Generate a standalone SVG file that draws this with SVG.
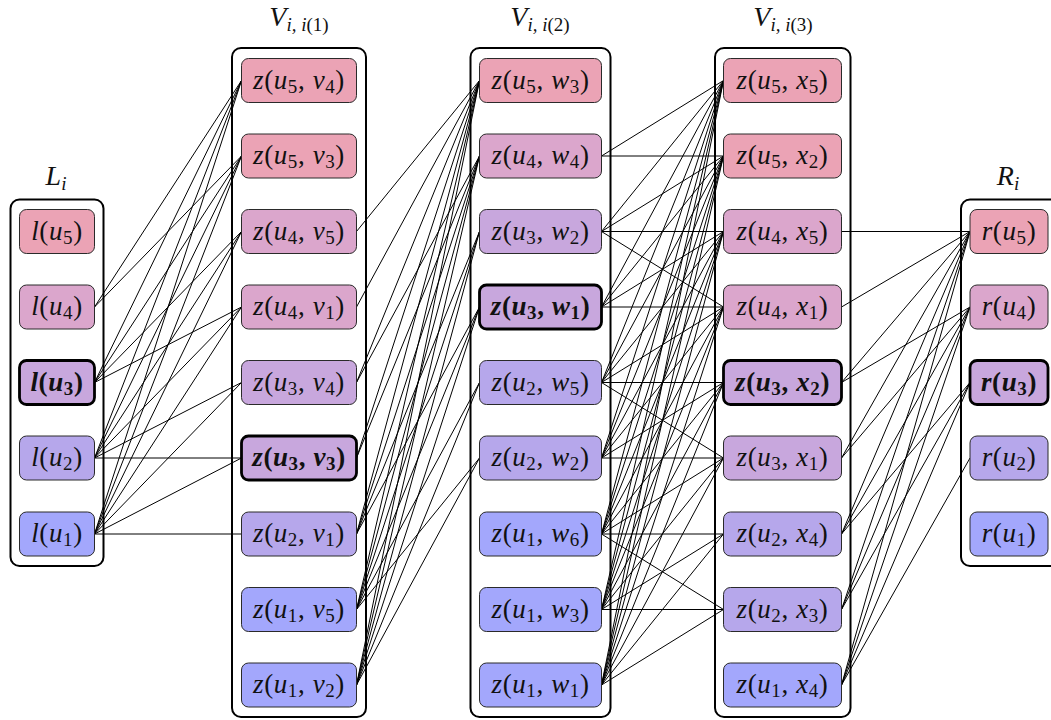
<svg xmlns="http://www.w3.org/2000/svg" width="1051" height="720" viewBox="0 0 1051 720">
<style>
.bg{fill:#fff}
.box{fill:#fff;stroke:#000;stroke-width:2}
.n{stroke:#2a2a2a;stroke-width:1}
.nb{stroke:#000;stroke-width:2.8}
.c5{fill:#EBA3B5}.c4{fill:#DBA6CC}.c3{fill:#C8A7DD}.c2{fill:#B6A7EB}.c1{fill:#A3A7FC}
.e{fill:none;stroke:#000;stroke-width:1}
.t{font-family:"Liberation Serif","DejaVu Serif",serif;font-size:27px;fill:#111;text-anchor:middle;letter-spacing:0.6px}
.tb{font-weight:bold}
.i{font-style:italic}
.s{font-size:19px}
.lab{font-family:"Liberation Serif","DejaVu Serif",serif;font-size:28px;fill:#111;text-anchor:middle}
.ls{font-size:19px;font-style:italic}
.lu{font-size:19px;font-style:normal}
</style>
<rect class="bg" x="0" y="0" width="1051" height="720"/>
<g id="labels">
<text class="lab" x="56" y="185"><tspan class="i">L</tspan><tspan class="ls" dy="5">i</tspan></text>
<text class="lab" x="299" y="26"><tspan class="i">V</tspan><tspan class="ls" dy="5">i, i</tspan><tspan class="lu">(1)</tspan></text>
<text class="lab" x="540" y="26"><tspan class="i">V</tspan><tspan class="ls" dy="5">i, i</tspan><tspan class="lu">(2)</tspan></text>
<text class="lab" x="783" y="26"><tspan class="i">V</tspan><tspan class="ls" dy="5">i, i</tspan><tspan class="lu">(3)</tspan></text>
<text class="lab" x="1008" y="185"><tspan class="i">R</tspan><tspan class="ls" dy="5">i</tspan></text>
</g>
<g id="containers">
<rect id="Li" class="box" x="10.5" y="199.5" width="93" height="366.5" rx="9"/>
<rect id="V1" class="box" x="232" y="48" width="134" height="669" rx="9"/>
<rect id="V2" class="box" x="470.5" y="48" width="140" height="669" rx="9"/>
<rect id="V3" class="box" x="715" y="48" width="135.5" height="669" rx="9"/>
<rect id="Ri" class="box" x="961" y="199.5" width="100" height="366.5" rx="9"/>
</g>
<g id="connectors">
<path class="e" d="M94.5 307L241.5 80.5M94.5 307L241.5 156M94.5 382.5L241.5 80.5M94.5 382.5L241.5 156M94.5 382.5L241.5 231.5M94.5 382.5L241.5 307M94.5 458L241.5 80.5M94.5 458L241.5 156M94.5 458L241.5 231.5M94.5 458L241.5 307M94.5 458L241.5 382.5M94.5 458L241.5 458M94.5 534L241.5 80.5M94.5 534L241.5 156M94.5 534L241.5 231.5M94.5 534L241.5 307M94.5 534L241.5 382.5M94.5 534L241.5 458M94.5 534L241.5 534"/>
<path class="e" d="M356.5 231.5L479.5 80.5M356.5 307L479.5 80.5M356.5 382.5L479.5 80.5M356.5 382.5L479.5 156M356.5 458L479.5 80.5M356.5 458L479.5 156M356.5 534L479.5 80.5M356.5 534L479.5 156M356.5 534L479.5 231.5M356.5 534L479.5 307M356.5 609.5L479.5 80.5M356.5 609.5L479.5 156M356.5 609.5L479.5 231.5M356.5 609.5L479.5 307M356.5 609.5L479.5 382.5M356.5 609.5L479.5 458M356.5 685L479.5 80.5M356.5 685L479.5 156M356.5 685L479.5 231.5M356.5 685L479.5 307M356.5 685L479.5 382.5M356.5 685L479.5 458"/>
<path class="e" d="M601.5 156L723.5 80.5M601.5 156L723.5 156M601.5 231.5L723.5 80.5M601.5 231.5L723.5 156M601.5 231.5L723.5 231.5M601.5 231.5L723.5 307M601.5 307L723.5 80.5M601.5 307L723.5 156M601.5 307L723.5 231.5M601.5 307L723.5 307M601.5 382.5L723.5 80.5M601.5 382.5L723.5 156M601.5 382.5L723.5 231.5M601.5 382.5L723.5 307M601.5 382.5L723.5 382.5M601.5 382.5L723.5 458M601.5 458L723.5 80.5M601.5 458L723.5 156M601.5 458L723.5 231.5M601.5 458L723.5 307M601.5 458L723.5 382.5M601.5 458L723.5 458M601.5 534L723.5 80.5M601.5 534L723.5 156M601.5 534L723.5 231.5M601.5 534L723.5 307M601.5 534L723.5 382.5M601.5 534L723.5 458M601.5 534L723.5 534M601.5 534L723.5 609.5M601.5 609.5L723.5 80.5M601.5 609.5L723.5 156M601.5 609.5L723.5 231.5M601.5 609.5L723.5 307M601.5 609.5L723.5 382.5M601.5 609.5L723.5 458M601.5 609.5L723.5 534M601.5 609.5L723.5 609.5M601.5 685L723.5 80.5M601.5 685L723.5 156M601.5 685L723.5 231.5M601.5 685L723.5 307M601.5 685L723.5 382.5M601.5 685L723.5 458M601.5 685L723.5 534M601.5 685L723.5 609.5"/>
<path class="e" d="M841.5 231.5L970 231.5M841.5 307L970 231.5M841.5 382.5L970 231.5M841.5 382.5L970 307M841.5 458L970 231.5M841.5 458L970 307M841.5 534L970 231.5M841.5 534L970 307M841.5 534L970 382.5M841.5 609.5L970 231.5M841.5 609.5L970 307M841.5 609.5L970 382.5M841.5 685L970 231.5M841.5 685L970 307M841.5 685L970 382.5M841.5 685L970 458"/>
</g>
<g id="L5"><rect class="n c5" x="19.5" y="209.5" width="75" height="44" rx="7"/><text class="t" x="57" y="239.5"><tspan class="i">l</tspan>(<tspan class="i">u</tspan><tspan class="s" dy="4">5</tspan><tspan dy="-4">)</tspan></text></g>
<g id="L4"><rect class="n c4" x="19.5" y="285" width="75" height="44" rx="7"/><text class="t" x="57" y="315"><tspan class="i">l</tspan>(<tspan class="i">u</tspan><tspan class="s" dy="4">4</tspan><tspan dy="-4">)</tspan></text></g>
<g id="L3"><rect class="nb c3" x="19.5" y="360.5" width="75" height="44" rx="7"/><text class="t tb" x="57" y="390.5"><tspan class="i">l</tspan>(<tspan class="i">u</tspan><tspan class="s" dy="4">3</tspan><tspan dy="-4">)</tspan></text></g>
<g id="L2"><rect class="n c2" x="19.5" y="436" width="75" height="44" rx="7"/><text class="t" x="57" y="466"><tspan class="i">l</tspan>(<tspan class="i">u</tspan><tspan class="s" dy="4">2</tspan><tspan dy="-4">)</tspan></text></g>
<g id="L1"><rect class="n c1" x="19.5" y="512" width="75" height="44" rx="7"/><text class="t" x="57" y="542"><tspan class="i">l</tspan>(<tspan class="i">u</tspan><tspan class="s" dy="4">1</tspan><tspan dy="-4">)</tspan></text></g>

<g id="A0"><rect class="n c5" x="241.5" y="58.5" width="115" height="44" rx="7"/><text class="t" x="299" y="88.5"><tspan class="i">z</tspan>(<tspan class="i">u</tspan><tspan class="s" dy="4">5</tspan><tspan dy="-4">, </tspan><tspan class="i">v</tspan><tspan class="s" dy="4">4</tspan><tspan dy="-4">)</tspan></text></g>
<g id="A1"><rect class="n c5" x="241.5" y="134" width="115" height="44" rx="7"/><text class="t" x="299" y="164"><tspan class="i">z</tspan>(<tspan class="i">u</tspan><tspan class="s" dy="4">5</tspan><tspan dy="-4">, </tspan><tspan class="i">v</tspan><tspan class="s" dy="4">3</tspan><tspan dy="-4">)</tspan></text></g>
<g id="A2"><rect class="n c4" x="241.5" y="209.5" width="115" height="44" rx="7"/><text class="t" x="299" y="239.5"><tspan class="i">z</tspan>(<tspan class="i">u</tspan><tspan class="s" dy="4">4</tspan><tspan dy="-4">, </tspan><tspan class="i">v</tspan><tspan class="s" dy="4">5</tspan><tspan dy="-4">)</tspan></text></g>
<g id="A3"><rect class="n c4" x="241.5" y="285" width="115" height="44" rx="7"/><text class="t" x="299" y="315"><tspan class="i">z</tspan>(<tspan class="i">u</tspan><tspan class="s" dy="4">4</tspan><tspan dy="-4">, </tspan><tspan class="i">v</tspan><tspan class="s" dy="4">1</tspan><tspan dy="-4">)</tspan></text></g>
<g id="A4"><rect class="n c3" x="241.5" y="360.5" width="115" height="44" rx="7"/><text class="t" x="299" y="390.5"><tspan class="i">z</tspan>(<tspan class="i">u</tspan><tspan class="s" dy="4">3</tspan><tspan dy="-4">, </tspan><tspan class="i">v</tspan><tspan class="s" dy="4">4</tspan><tspan dy="-4">)</tspan></text></g>
<g id="A5"><rect class="nb c3" x="241.5" y="436" width="115" height="44" rx="7"/><text class="t tb" x="299" y="466"><tspan class="i">z</tspan>(<tspan class="i">u</tspan><tspan class="s" dy="4">3</tspan><tspan dy="-4">, </tspan><tspan class="i">v</tspan><tspan class="s" dy="4">3</tspan><tspan dy="-4">)</tspan></text></g>
<g id="A6"><rect class="n c2" x="241.5" y="512" width="115" height="44" rx="7"/><text class="t" x="299" y="542"><tspan class="i">z</tspan>(<tspan class="i">u</tspan><tspan class="s" dy="4">2</tspan><tspan dy="-4">, </tspan><tspan class="i">v</tspan><tspan class="s" dy="4">1</tspan><tspan dy="-4">)</tspan></text></g>
<g id="A7"><rect class="n c1" x="241.5" y="587.5" width="115" height="44" rx="7"/><text class="t" x="299" y="617.5"><tspan class="i">z</tspan>(<tspan class="i">u</tspan><tspan class="s" dy="4">1</tspan><tspan dy="-4">, </tspan><tspan class="i">v</tspan><tspan class="s" dy="4">5</tspan><tspan dy="-4">)</tspan></text></g>
<g id="A8"><rect class="n c1" x="241.5" y="663" width="115" height="44" rx="7"/><text class="t" x="299" y="693"><tspan class="i">z</tspan>(<tspan class="i">u</tspan><tspan class="s" dy="4">1</tspan><tspan dy="-4">, </tspan><tspan class="i">v</tspan><tspan class="s" dy="4">2</tspan><tspan dy="-4">)</tspan></text></g>

<g id="B0"><rect class="n c5" x="479.5" y="58.5" width="122" height="44" rx="7"/><text class="t" x="540.5" y="88.5"><tspan class="i">z</tspan>(<tspan class="i">u</tspan><tspan class="s" dy="4">5</tspan><tspan dy="-4">, </tspan><tspan class="i">w</tspan><tspan class="s" dy="4">3</tspan><tspan dy="-4">)</tspan></text></g>
<g id="B1"><rect class="n c4" x="479.5" y="134" width="122" height="44" rx="7"/><text class="t" x="540.5" y="164"><tspan class="i">z</tspan>(<tspan class="i">u</tspan><tspan class="s" dy="4">4</tspan><tspan dy="-4">, </tspan><tspan class="i">w</tspan><tspan class="s" dy="4">4</tspan><tspan dy="-4">)</tspan></text></g>
<g id="B2"><rect class="n c3" x="479.5" y="209.5" width="122" height="44" rx="7"/><text class="t" x="540.5" y="239.5"><tspan class="i">z</tspan>(<tspan class="i">u</tspan><tspan class="s" dy="4">3</tspan><tspan dy="-4">, </tspan><tspan class="i">w</tspan><tspan class="s" dy="4">2</tspan><tspan dy="-4">)</tspan></text></g>
<g id="B3"><rect class="nb c3" x="479.5" y="285" width="122" height="44" rx="7"/><text class="t tb" x="540.5" y="315"><tspan class="i">z</tspan>(<tspan class="i">u</tspan><tspan class="s" dy="4">3</tspan><tspan dy="-4">, </tspan><tspan class="i">w</tspan><tspan class="s" dy="4">1</tspan><tspan dy="-4">)</tspan></text></g>
<g id="B4"><rect class="n c2" x="479.5" y="360.5" width="122" height="44" rx="7"/><text class="t" x="540.5" y="390.5"><tspan class="i">z</tspan>(<tspan class="i">u</tspan><tspan class="s" dy="4">2</tspan><tspan dy="-4">, </tspan><tspan class="i">w</tspan><tspan class="s" dy="4">5</tspan><tspan dy="-4">)</tspan></text></g>
<g id="B5"><rect class="n c2" x="479.5" y="436" width="122" height="44" rx="7"/><text class="t" x="540.5" y="466"><tspan class="i">z</tspan>(<tspan class="i">u</tspan><tspan class="s" dy="4">2</tspan><tspan dy="-4">, </tspan><tspan class="i">w</tspan><tspan class="s" dy="4">2</tspan><tspan dy="-4">)</tspan></text></g>
<g id="B6"><rect class="n c1" x="479.5" y="512" width="122" height="44" rx="7"/><text class="t" x="540.5" y="542"><tspan class="i">z</tspan>(<tspan class="i">u</tspan><tspan class="s" dy="4">1</tspan><tspan dy="-4">, </tspan><tspan class="i">w</tspan><tspan class="s" dy="4">6</tspan><tspan dy="-4">)</tspan></text></g>
<g id="B7"><rect class="n c1" x="479.5" y="587.5" width="122" height="44" rx="7"/><text class="t" x="540.5" y="617.5"><tspan class="i">z</tspan>(<tspan class="i">u</tspan><tspan class="s" dy="4">1</tspan><tspan dy="-4">, </tspan><tspan class="i">w</tspan><tspan class="s" dy="4">3</tspan><tspan dy="-4">)</tspan></text></g>
<g id="B8"><rect class="n c1" x="479.5" y="663" width="122" height="44" rx="7"/><text class="t" x="540.5" y="693"><tspan class="i">z</tspan>(<tspan class="i">u</tspan><tspan class="s" dy="4">1</tspan><tspan dy="-4">, </tspan><tspan class="i">w</tspan><tspan class="s" dy="4">1</tspan><tspan dy="-4">)</tspan></text></g>

<g id="C0"><rect class="n c5" x="723.5" y="58.5" width="118" height="44" rx="7"/><text class="t" x="782.5" y="88.5"><tspan class="i">z</tspan>(<tspan class="i">u</tspan><tspan class="s" dy="4">5</tspan><tspan dy="-4">, </tspan><tspan class="i">x</tspan><tspan class="s" dy="4">5</tspan><tspan dy="-4">)</tspan></text></g>
<g id="C1"><rect class="n c5" x="723.5" y="134" width="118" height="44" rx="7"/><text class="t" x="782.5" y="164"><tspan class="i">z</tspan>(<tspan class="i">u</tspan><tspan class="s" dy="4">5</tspan><tspan dy="-4">, </tspan><tspan class="i">x</tspan><tspan class="s" dy="4">2</tspan><tspan dy="-4">)</tspan></text></g>
<g id="C2"><rect class="n c4" x="723.5" y="209.5" width="118" height="44" rx="7"/><text class="t" x="782.5" y="239.5"><tspan class="i">z</tspan>(<tspan class="i">u</tspan><tspan class="s" dy="4">4</tspan><tspan dy="-4">, </tspan><tspan class="i">x</tspan><tspan class="s" dy="4">5</tspan><tspan dy="-4">)</tspan></text></g>
<g id="C3"><rect class="n c4" x="723.5" y="285" width="118" height="44" rx="7"/><text class="t" x="782.5" y="315"><tspan class="i">z</tspan>(<tspan class="i">u</tspan><tspan class="s" dy="4">4</tspan><tspan dy="-4">, </tspan><tspan class="i">x</tspan><tspan class="s" dy="4">1</tspan><tspan dy="-4">)</tspan></text></g>
<g id="C4"><rect class="nb c3" x="723.5" y="360.5" width="118" height="44" rx="7"/><text class="t tb" x="782.5" y="390.5"><tspan class="i">z</tspan>(<tspan class="i">u</tspan><tspan class="s" dy="4">3</tspan><tspan dy="-4">, </tspan><tspan class="i">x</tspan><tspan class="s" dy="4">2</tspan><tspan dy="-4">)</tspan></text></g>
<g id="C5"><rect class="n c3" x="723.5" y="436" width="118" height="44" rx="7"/><text class="t" x="782.5" y="466"><tspan class="i">z</tspan>(<tspan class="i">u</tspan><tspan class="s" dy="4">3</tspan><tspan dy="-4">, </tspan><tspan class="i">x</tspan><tspan class="s" dy="4">1</tspan><tspan dy="-4">)</tspan></text></g>
<g id="C6"><rect class="n c2" x="723.5" y="512" width="118" height="44" rx="7"/><text class="t" x="782.5" y="542"><tspan class="i">z</tspan>(<tspan class="i">u</tspan><tspan class="s" dy="4">2</tspan><tspan dy="-4">, </tspan><tspan class="i">x</tspan><tspan class="s" dy="4">4</tspan><tspan dy="-4">)</tspan></text></g>
<g id="C7"><rect class="n c2" x="723.5" y="587.5" width="118" height="44" rx="7"/><text class="t" x="782.5" y="617.5"><tspan class="i">z</tspan>(<tspan class="i">u</tspan><tspan class="s" dy="4">2</tspan><tspan dy="-4">, </tspan><tspan class="i">x</tspan><tspan class="s" dy="4">3</tspan><tspan dy="-4">)</tspan></text></g>
<g id="C8"><rect class="n c1" x="723.5" y="663" width="118" height="44" rx="7"/><text class="t" x="782.5" y="693"><tspan class="i">z</tspan>(<tspan class="i">u</tspan><tspan class="s" dy="4">1</tspan><tspan dy="-4">, </tspan><tspan class="i">x</tspan><tspan class="s" dy="4">4</tspan><tspan dy="-4">)</tspan></text></g>

<g id="R5"><rect class="n c5" x="970" y="209.5" width="78" height="44" rx="7"/><text class="t" x="1009" y="239.5"><tspan class="i">r</tspan>(<tspan class="i">u</tspan><tspan class="s" dy="4">5</tspan><tspan dy="-4">)</tspan></text></g>
<g id="R4"><rect class="n c4" x="970" y="285" width="78" height="44" rx="7"/><text class="t" x="1009" y="315"><tspan class="i">r</tspan>(<tspan class="i">u</tspan><tspan class="s" dy="4">4</tspan><tspan dy="-4">)</tspan></text></g>
<g id="R3"><rect class="nb c3" x="970" y="360.5" width="78" height="44" rx="7"/><text class="t tb" x="1009" y="390.5"><tspan class="i">r</tspan>(<tspan class="i">u</tspan><tspan class="s" dy="4">3</tspan><tspan dy="-4">)</tspan></text></g>
<g id="R2"><rect class="n c2" x="970" y="436" width="78" height="44" rx="7"/><text class="t" x="1009" y="466"><tspan class="i">r</tspan>(<tspan class="i">u</tspan><tspan class="s" dy="4">2</tspan><tspan dy="-4">)</tspan></text></g>
<g id="R1"><rect class="n c1" x="970" y="512" width="78" height="44" rx="7"/><text class="t" x="1009" y="542"><tspan class="i">r</tspan>(<tspan class="i">u</tspan><tspan class="s" dy="4">1</tspan><tspan dy="-4">)</tspan></text></g>
</svg>
